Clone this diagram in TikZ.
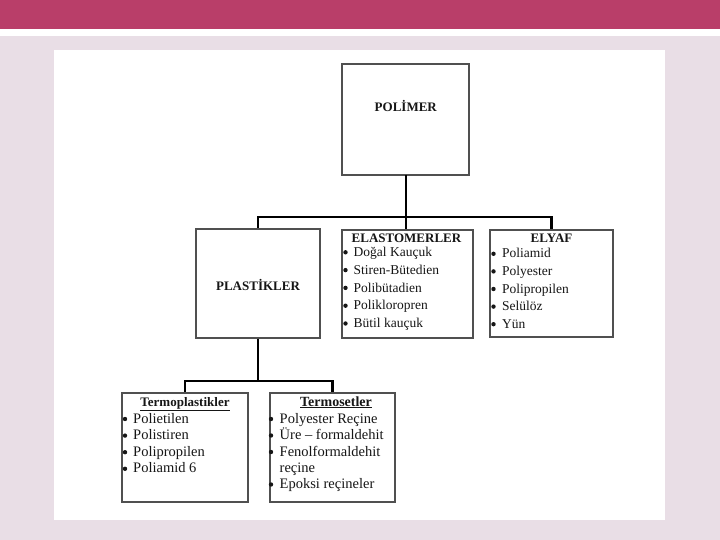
\documentclass[tikz,border=0pt]{standalone}
\usepackage{fontspec}
\setmainfont{Liberation Serif}
\definecolor{band}{HTML}{B93E69}
\definecolor{bgpink}{HTML}{E9DEE6}
\definecolor{boxline}{HTML}{505050}
\definecolor{ink}{HTML}{161616}
\begin{document}
\begin{tikzpicture}[x=1pt,y=-1pt,
  box/.style={draw=boxline, line width=1.1pt, inner sep=0pt, fill=white},
  conn/.style={line width=2.6pt, draw=black},
  head/.style={inner sep=0pt, anchor=base, text=ink, font=\fontsize{13}{15}\selectfont\bfseries},
  itm/.style={inner sep=0pt, anchor=base west, text=ink, font=\fontsize{13.5}{15}\selectfont},
  itmb/.style={itm, font=\fontsize{14.5}{15}\selectfont},
  dot/.style={circle, fill=ink, inner sep=0pt, minimum size=4.4pt}]
\useasboundingbox (0,0) rectangle (720,540);
\fill[bgpink] (0,0) rectangle (720,540);
\fill[white] (0,29) rectangle (720,36);
\fill[band] (0,0) rectangle (720,29);
\fill[white] (54,50) rectangle (665,520);

% boxes
\node[box, minimum width=127pt, minimum height=111pt] (polimer) at (405.5,119.5) {};
\node[box, minimum width=124pt, minimum height=109pt] (plastik) at (258,283.5) {};
\node[box, minimum width=131pt, minimum height=108pt] (elast) at (407.5,284) {};
\node[box, minimum width=123pt, minimum height=107pt] (elyaf) at (551.5,283.5) {};
\node[box, minimum width=126pt, minimum height=109pt] (tp) at (185,447.5) {};
\node[box, minimum width=125pt, minimum height=109pt] (ts) at (332.5,447.5) {};

% connectors
\coordinate (j1) at (406,217);
\coordinate (j2) at (258,381);
\draw[conn] (406,175) -- (j1);
\draw[conn] (j1) -| (plastik.north);
\draw[conn] (j1) -- (j1 |- elast.north);
\draw[conn] (j1) -| (elyaf.north);
\draw[conn] (plastik.south) -- (j2);
\draw[conn] (j2) -| (tp.north);
\draw[conn] (j2) -| (ts.north);

% headings
\node[head] (tpolimer) at (405.8,111.7) {POLİMER};
\node[head] (tplastik) at (258,290.7) {PLASTİKLER};
\node[head] (telast) at (406.5,243) {ELASTOMERLER};
\node[head] (telyaf) at (551.5,243) {ELYAF};
\node[head] (ttp) at (185,406) {\underline{Termoplastikler}};
\node[head, font=\fontsize{14}{15}\selectfont\bfseries] (tts) at (336,406) {\underline{Termosetler}};

% items
\foreach \t [count=\i from 0] in {Doğal Kauçuk, Stiren-Bütedien, Polibütadien, Polikloropren, Bütil kauçuk}{
  \node[dot] (ed\i) at (345.5,252.3+17.8*\i) {};
  \node[itm] (e\i) at (353.5,256.5+17.8*\i) {\t};}
\foreach \t [count=\i from 0] in {Poliamid, Polyester, Polipropilen, Selülöz, Yün}{
  \node[dot] (yd\i) at (493.5,253.8+17.6*\i) {};
  \node[itm] (y\i) at (502,258+17.6*\i) {\t};}
\foreach \t [count=\i from 0] in {Polietilen, Polistiren, Polipropilen, Poliamid 6}{
  \node[dot] (pd\i) at (125,419+16.6*\i) {};
  \node[itmb] (p\i) at (133,423+16.6*\i) {\t};}
\node[dot] (sd0) at (271,419) {};
\node[itmb] (s0) at (279.5,423) {Polyester Reçine};
\node[dot] (sd1) at (271,435.5) {};
\node[itmb] (s1) at (279.5,439.5) {Üre – formaldehit};
\node[dot] (sd2) at (271,452) {};
\node[itmb] (s2) at (279.5,456) {Fenolformaldehit};
\node[itmb] (s3) at (279.5,472) {reçine};
\node[dot] (sd4) at (271,484.5) {};
\node[itmb] (s4) at (279.5,488.5) {Epoksi reçineler};
\end{tikzpicture}
\end{document}
